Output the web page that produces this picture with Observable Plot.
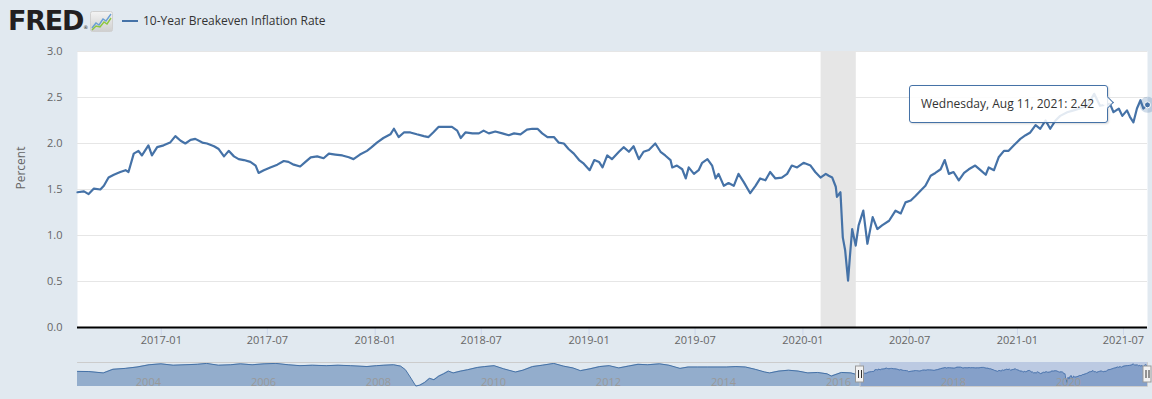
<!DOCTYPE html>
<html>
<head>
<meta charset="utf-8">
<script src="https://cdn.jsdelivr.net/npm/d3@7"></script>
<script src="https://cdn.jsdelivr.net/npm/@observablehq/plot@0.6"></script>
<style>
  html, body { margin:0; padding:0; }
  body { width:1152px; height:399px; overflow:hidden; position:relative; background:#e1e9f0; font-family:"Open Sans", sans-serif; }
  #logo { position:absolute; left:8px; top:4px; font-family:"DejaVu Sans", sans-serif; font-weight:bold; font-size:27px; letter-spacing:-1.2px; color:#231f20; line-height:34px; }
  #logo sup { font-size:5px; letter-spacing:0; vertical-align:baseline; position:relative; top:-1px; font-weight:normal; }
  #icon { position:absolute; left:90px; top:11px; }
  #legline { position:absolute; left:122px; top:20px; width:16px; height:2px; background:#4572a7; }
  #legtext { position:absolute; left:143px; top:12px; font-size:12px; color:#333; line-height:18px; }
  #main { position:absolute; left:0; top:40px; }
  #nav { position:absolute; left:0; top:360px; }
  #tip { position:absolute; left:909px; top:85px; width:197px; height:36px; border:1px solid #4572a7; border-radius:3px;
         background:rgba(255,255,255,0.85); font-size:12px; color:#333; line-height:36px; box-shadow:1px 1px 2px rgba(0,0,0,0.15); }
  #tip span { position:absolute; left:11px; top:0; white-space:nowrap; }
  #arrow { position:absolute; left:1103px; top:98px; width:8px; height:8px; transform:rotate(45deg);
           border-top:1px solid #4572a7; border-right:1px solid #4572a7; background:rgba(255,255,255,0.85); }
</style>
</head>
<body>
<div id="logo">FRED<sup>®</sup></div>
<svg id="icon" width="23" height="21" viewBox="0 0 23 21">
  <defs><linearGradient id="g" x1="0" y1="0" x2="0" y2="1"><stop offset="0" stop-color="#f4f4f4"/><stop offset="1" stop-color="#cfcfcf"/></linearGradient></defs>
  <rect x="0.5" y="0.5" width="22" height="20" rx="2" fill="url(#g)" stroke="#d0d0d0"/>
  <polyline points="2,17 6,12 9,14 13,8 16,10 21,3" fill="none" stroke="#6a9fd4" stroke-width="1.4"/>
  <polyline points="2,19 6,15 10,16 14,11 17,13 21,7" fill="none" stroke="#8cc63f" stroke-width="1.4"/>
</svg>
<div id="legline"></div>
<div id="legtext">10-Year Breakeven Inflation Rate</div>
<div id="main"></div>
<div id="nav"></div>
<div id="tip"><span>Wednesday, Aug 11, 2021: 2.42</span></div>
<div id="arrow"></div>
<script>
// ---- data ----
const mainDates = ["2016-08-11","2016-08-22","2016-08-30","2016-09-08","2016-09-19","2016-09-25","2016-10-03","2016-10-12","2016-10-23","2016-11-01",
"2016-11-06","2016-11-15","2016-11-23","2016-11-29","2016-12-10","2016-12-16","2016-12-25","2017-01-05","2017-01-16","2017-01-25",
"2017-02-03","2017-02-11","2017-02-20","2017-02-28","2017-03-12","2017-03-20","2017-04-01","2017-04-09","2017-04-18","2017-04-26",
"2017-05-05","2017-05-13","2017-05-22","2017-06-02","2017-06-11","2017-06-16","2017-06-25","2017-07-06","2017-07-18","2017-07-29",
"2017-08-06","2017-08-15","2017-08-26","2017-09-04","2017-09-13","2017-09-24","2017-10-05","2017-10-14","2017-10-25","2017-11-06",
"2017-11-17","2017-11-25","2017-12-06","2017-12-18","2017-12-26","2018-01-04","2018-01-15","2018-01-27","2018-02-02","2018-02-10",
"2018-02-19","2018-03-02","2018-03-13","2018-03-25","2018-04-02","2018-04-10","2018-04-19","2018-05-01","2018-05-12","2018-05-21",
"2018-05-27","2018-06-04","2018-06-16","2018-06-27","2018-07-05","2018-07-14","2018-07-25","2018-08-06","2018-08-17","2018-08-26",
"2018-09-06","2018-09-17","2018-09-26","2018-10-05","2018-10-13","2018-10-22","2018-11-02","2018-11-10","2018-11-19","2018-11-27",
"2018-12-06","2018-12-15","2018-12-23","2019-01-02","2019-01-10","2019-01-18","2019-01-24","2019-02-01","2019-02-09","2019-02-21",
"2019-03-01","2019-03-10","2019-03-18","2019-03-27","2019-04-04","2019-04-13","2019-04-24","2019-05-03","2019-05-11","2019-05-20",
"2019-05-23","2019-05-31","2019-06-09","2019-06-15","2019-06-20","2019-06-29","2019-07-07","2019-07-13","2019-07-22","2019-07-30",
"2019-08-05","2019-08-10","2019-08-19","2019-08-27","2019-09-05","2019-09-13","2019-09-22","2019-10-03","2019-10-12","2019-10-20",
"2019-10-29","2019-11-06","2019-11-15","2019-11-26","2019-12-05","2019-12-13","2019-12-22","2020-01-02","2020-01-14","2020-01-22",
"2020-01-31","2020-02-09","2020-02-14","2020-02-20","2020-02-26","2020-02-28","2020-03-05","2020-03-09","2020-03-13","2020-03-18",
"2020-03-21","2020-03-25","2020-03-31","2020-04-05","2020-04-13","2020-04-20","2020-04-29","2020-05-07","2020-05-15","2020-05-27",
"2020-06-07","2020-06-16","2020-06-24","2020-07-03","2020-07-11","2020-07-20","2020-07-28","2020-08-06","2020-08-14","2020-08-23",
"2020-08-30","2020-09-06","2020-09-14","2020-09-23","2020-10-02","2020-10-10","2020-10-21","2020-10-30","2020-11-08","2020-11-13",
"2020-11-22","2020-11-30","2020-12-09","2020-12-17","2020-12-26","2021-01-06","2021-01-15","2021-01-23","2021-02-01","2021-02-09",
"2021-02-18","2021-02-26","2021-03-07","2021-03-15","2021-03-27","2021-04-07","2021-04-18","2021-04-30","2021-05-12","2021-05-22",
"2021-06-08","2021-06-14","2021-06-23","2021-06-29","2021-07-07","2021-07-12","2021-07-18","2021-07-24","2021-07-30","2021-08-04",
"2021-08-11"];
const mainValues = [1.47,1.48,1.45,1.51,1.50,1.54,1.63,1.66,1.69,1.71,
1.69,1.89,1.92,1.87,1.98,1.87,1.96,1.98,2.01,2.08,
2.03,2.00,2.04,2.05,2.01,2.00,1.97,1.94,1.86,1.92,
1.86,1.83,1.82,1.80,1.76,1.68,1.71,1.74,1.77,1.81,
1.80,1.77,1.75,1.80,1.85,1.86,1.84,1.89,1.88,1.87,
1.85,1.83,1.88,1.92,1.96,2.01,2.06,2.10,2.16,2.07,
2.12,2.12,2.10,2.08,2.07,2.12,2.18,2.18,2.18,2.14,
2.06,2.12,2.11,2.11,2.14,2.11,2.13,2.11,2.09,2.11,
2.10,2.15,2.16,2.16,2.11,2.07,2.07,2.01,2.00,1.94,
1.89,1.82,1.78,1.71,1.82,1.80,1.74,1.87,1.83,1.91,
1.96,1.91,1.97,1.83,1.91,1.93,2.00,1.91,1.87,1.82,
1.74,1.76,1.72,1.62,1.74,1.67,1.71,1.79,1.83,1.76,
1.62,1.67,1.54,1.57,1.54,1.67,1.58,1.46,1.54,1.62,
1.60,1.69,1.62,1.63,1.67,1.76,1.74,1.79,1.76,1.69,
1.63,1.67,1.65,1.63,1.53,1.42,1.47,0.98,0.84,0.51,
0.76,1.07,0.89,1.11,1.27,0.91,1.20,1.07,1.11,1.16,
1.27,1.24,1.36,1.38,1.43,1.49,1.54,1.65,1.68,1.72,
1.82,1.67,1.69,1.60,1.68,1.72,1.76,1.71,1.66,1.74,
1.71,1.85,1.92,1.92,1.98,2.05,2.09,2.12,2.20,2.16,
2.25,2.16,2.25,2.30,2.34,2.36,2.38,2.41,2.54,2.41,
2.43,2.34,2.38,2.30,2.36,2.29,2.23,2.38,2.47,2.38,
2.42];
// longer history shown in the navigator strip
const navDates = ["2003-01-02","2003-03-15","2003-06-15","2003-08-15","2003-11-01","2004-01-15","2004-04-01","2004-06-15","2004-09-01","2004-11-15",
"2005-02-01","2005-04-01","2005-06-15","2005-09-01","2005-11-01","2006-01-15","2006-04-01","2006-06-15","2006-09-01","2006-11-15",
"2007-02-01","2007-05-01","2007-07-15","2007-10-01","2008-01-15","2008-03-15","2008-05-01","2008-07-01","2008-08-15","2008-09-15",
"2008-10-15","2008-11-20","2008-12-15","2009-01-15","2009-02-15","2009-03-15","2009-04-15","2009-05-15","2009-06-15","2009-07-15",
"2009-09-01","2009-10-15","2009-12-15","2010-02-01","2010-04-01","2010-06-01","2010-08-15","2010-10-01","2010-12-01","2011-02-01",
"2011-04-15","2011-06-15","2011-08-15","2011-10-01","2011-12-01","2012-02-01","2012-04-01","2012-06-01","2012-08-01","2012-10-01",
"2012-12-01","2013-02-15","2013-04-15","2013-06-25","2013-08-15","2013-10-15","2013-12-15","2014-02-15","2014-04-15","2014-06-15",
"2014-08-15","2014-10-15","2014-12-15","2015-01-15","2015-03-15","2015-05-15","2015-07-15","2015-09-15","2015-11-15","2016-01-15",
"2016-02-11","2016-04-15","2016-06-15","2016-07-15"];
const navValues = [1.72,1.70,1.55,1.95,2.05,2.20,2.45,2.55,2.40,2.45,
2.50,2.60,2.40,2.45,2.55,2.45,2.55,2.60,2.45,2.35,
2.40,2.35,2.40,2.35,2.25,2.35,2.40,2.45,2.30,1.90,
1.10,0.10,0.20,0.50,0.95,0.80,1.20,1.45,1.75,1.55,
1.75,1.90,2.15,2.25,2.35,2.00,1.65,1.85,2.25,2.40,
2.60,2.30,2.10,1.80,2.00,2.25,2.35,2.10,2.30,2.50,
2.45,2.55,2.40,2.05,2.20,2.20,2.20,2.20,2.20,2.25,
2.20,1.95,1.65,1.55,1.75,1.85,1.75,1.55,1.60,1.45,
1.20,1.60,1.55,1.40];
const yTicks = [0, 0.5, 1.0, 1.5, 2.0, 2.5, 3.0];
const xTickLabels = ["2017-01","2017-07","2018-01","2018-07","2019-01","2019-07","2020-01","2020-07","2021-01","2021-07"];
const navYearLabels = ["2004","2006","2008","2010","2012","2014","2016","2018","2020"];
const recession = [{start:"2020-02-01", end:"2020-04-01"}];
const viewRange = ["2016-08-11","2021-08-11"];
const yLabel = "Percent";

// ---- build ----
const parse = d3.utcParse("%Y-%m-%d");
const main = mainDates.map((d,i) => ({date: parse(d), value: mainValues[i]}));
const hist = navDates.map((d,i) => ({date: parse(d), value: navValues[i]})).concat(main);
const last = main[main.length - 1];
const xTicks = xTickLabels.map(d3.utcParse("%Y-%m"));
const navTicks = navYearLabels.map(d3.utcParse("%Y"));
const rec = recession.map(r => ({start: parse(r.start), end: parse(r.end)}));
const view = viewRange.map(parse);
const blue = "#4572a7";

const mainPlot = Plot.plot({
  width: 1152, height: 320,
  marginTop: 11, marginBottom: 33, marginLeft: 77, marginRight: 5,
  style: {background: "transparent", fontFamily: "'Open Sans', sans-serif", fontSize: "11px", color: "#666", overflow: "visible"},
  x: {type: "utc", domain: view},
  y: {domain: [0, 3]},
  marks: [
    Plot.frame({fill: "white", stroke: "none"}),
    Plot.gridY(yTicks, {stroke: "#e6e6e6", strokeOpacity: 1}),
    Plot.rect(rec, {x1: "start", x2: "end", y1: 0, y2: 3, fill: "#e6e6e6"}),
    Plot.axisY(yTicks, {tickSize: 0, tickPadding: 15, tickFormat: d3.format(".1f"), label: null, fill: "#666"}),
    Plot.text([yLabel], {frameAnchor: "left", text: d => d, rotate: -90, dx: -56, fill: "#666", fontSize: 12}),
    Plot.axisX(xTicks, {tickSize: 8, tickPadding: 1, tickFormat: d3.utcFormat("%Y-%m"), label: null, stroke: "#ccd6eb", fill: "#666"}),
    Plot.ruleY([0], {stroke: "#000", strokeWidth: 2}),
    Plot.lineY(main, {x: "date", y: "value", stroke: blue, strokeWidth: 2.2, strokeLinejoin: "round"}),
    Plot.dot([last], {x: "date", y: "value", r: 8, fill: blue, fillOpacity: 0.25, stroke: "none"}),
    Plot.dot([last], {x: "date", y: "value", r: 3, fill: blue, stroke: "white", strokeWidth: 1})
  ]
});
document.getElementById("main").appendChild(mainPlot);

const navDomain = [0.05, 2.7];
const outline = [
  {date: hist[0].date, v: navDomain[1]},
  {date: view[0], v: navDomain[1]},
  {date: view[0], v: navDomain[0]},
  {date: view[1], v: navDomain[0]},
  {date: view[1], v: navDomain[1]}
];
const navPlot = Plot.plot({
  width: 1152, height: 39,
  marginTop: 2, marginBottom: 13, marginLeft: 77, marginRight: 5,
  style: {background: "transparent", fontFamily: "'Open Sans', sans-serif", fontSize: "11px", overflow: "visible"},
  x: {type: "utc", domain: [hist[0].date, last.date]},
  y: {domain: navDomain, axis: null},
  marks: [
    Plot.areaY(hist, {x: "date", y1: navDomain[0], y2: "value", fill: blue, fillOpacity: 0.5}),
    Plot.lineY(hist, {x: "date", y: "value", stroke: blue, strokeWidth: 1}),
    Plot.rect([{a: view[0], b: view[1]}], {x1: "a", x2: "b", y1: navDomain[0], y2: navDomain[1], fill: "rgb(102,133,194)", fillOpacity: 0.3}),
    Plot.axisX(navTicks, {tickSize: 0, tickFormat: d3.utcFormat("%Y"), textAnchor: "start", dx: 1, dy: -17, label: null, fill: "#999", fontSize: 11}),
    Plot.line(outline, {x: "date", y: "v", stroke: "#cccccc", strokeWidth: 1}),
    Plot.rect(view, {x1: d => d, x2: d => d, y1: navDomain[0], y2: navDomain[1], insetLeft: -4, insetRight: -4, insetTop: 4, insetBottom: 4, fill: "#f2f2f2", stroke: "#999", strokeWidth: 1}),
    Plot.tickX(view, {x: d => d, dx: -1.5, y1: navDomain[0], y2: navDomain[1], insetTop: 8, insetBottom: 8, stroke: "#333", strokeWidth: 1}),
    Plot.tickX(view, {x: d => d, dx: 1.5, y1: navDomain[0], y2: navDomain[1], insetTop: 8, insetBottom: 8, stroke: "#333", strokeWidth: 1})
  ]
});
document.getElementById("nav").appendChild(navPlot);
</script>
</body>
</html>
